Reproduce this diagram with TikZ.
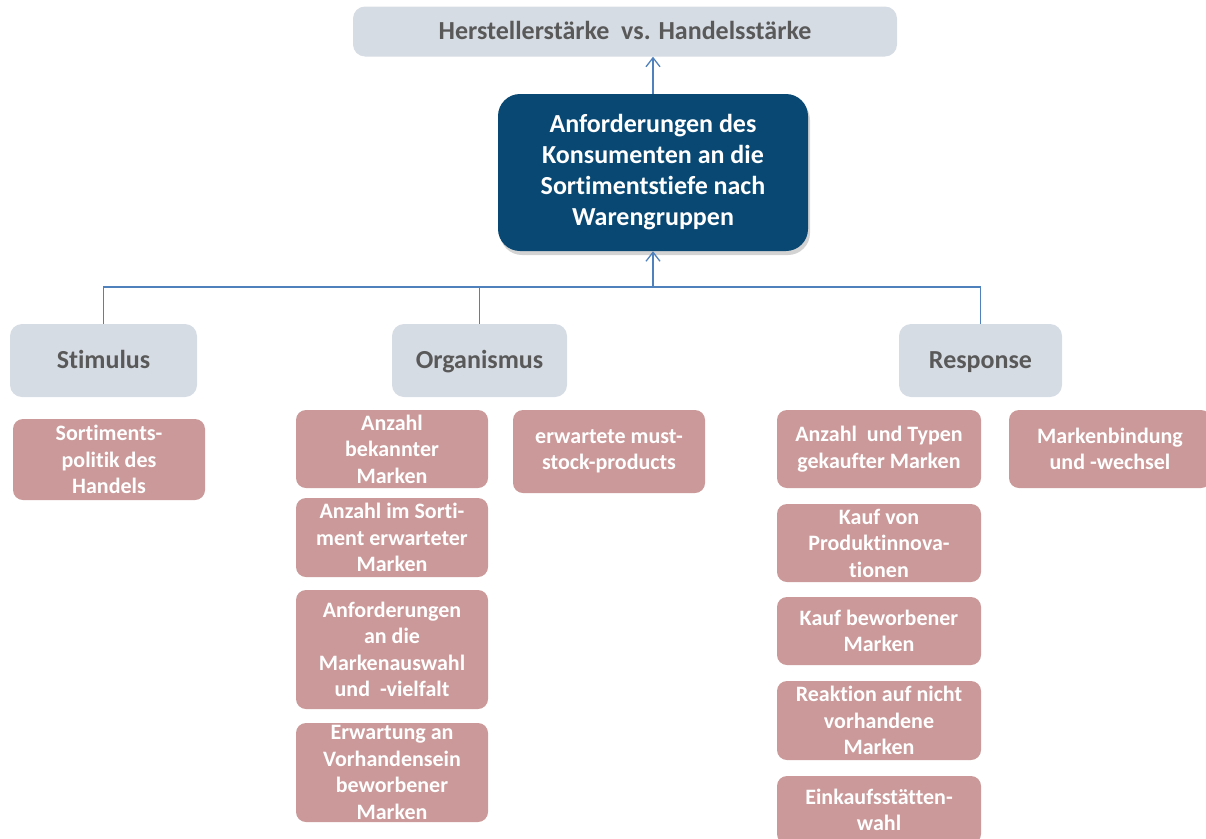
\documentclass[tikz,border=0pt]{standalone}
\usepackage{fontspec}
\setmainfont{Carlito}[Ligatures=NoCommon]
\usepackage{xcolor}
\usetikzlibrary{arrows.meta,shadows}
\definecolor{HeadFill}{RGB}{214,220,228}
\definecolor{HeadText}{RGB}{89,89,89}
\definecolor{MainFill}{RGB}{8,72,115}
\definecolor{ItemFill}{RGB}{203,153,153}
\definecolor{LinkCol}{RGB}{79,129,189}
\tikzset{
  srhead/.style={fill=HeadFill, rounded corners=12pt, inner sep=0pt, text=HeadText,
    font=\fontsize{26}{30}\selectfont\bfseries, text height=20pt, text depth=3.5pt},
  srmain/.style={fill=MainFill, rounded corners=22pt, inner sep=0pt, text=white,
    font=\fontsize{26}{31}\selectfont\bfseries, align=center,
    drop shadow={opacity=0.35, shadow xshift=2pt, shadow yshift=-4pt}},
  sritem/.style={fill=ItemFill, rounded corners=10pt, inner sep=0pt, text=white,
    font=\fontsize{22}{26.5}\selectfont\bfseries, align=center},
  srlink/.style={line width=1.3pt, draw=LinkCol},
  srarrow/.style={srlink, -{Straight Barb[length=9pt,width=14pt,line width=1.3pt]}}
}
\begin{document}
\begin{tikzpicture}[x=1pt,y=-1pt]
  \useasboundingbox (0,0) rectangle (1206,838);
  \clip (0,0) rectangle (1206,838);
  % top and centre
  \node[srhead, minimum width=544pt, minimum height=50pt] (top) at (625,31.5) {Herstellerstärke~ vs. Handelsstärke};
  \node[srmain, minimum width=310pt, minimum height=157pt] (main) at (653,172.5)
    {Anforderungen des\\Konsumenten an die\\Sortimentstiefe nach\\Warengruppen};
  % S-O-R headers
  \node[srhead, minimum width=187pt, minimum height=73pt] (stim) at (103.5,360.5) {Stimulus};
  \node[srhead, minimum width=175pt, minimum height=73pt] (org) at (479.5,360.5) {Organismus};
  \node[srhead, minimum width=163pt, minimum height=73pt] (resp) at (980.5,360.5) {Response};
  % stimulus
  \node[sritem, minimum width=192pt, minimum height=81pt] (sort) at (109,459.5) {Sortiments-\\politik des\\Handels};
  % organismus
  \node[sritem, minimum width=192pt, minimum height=78pt] (org1) at (392,449) {Anzahl\\bekannter\\Marken};
  \node[sritem, minimum width=192pt, minimum height=79pt] (org2) at (392,537.5) {Anzahl im Sorti-\\ment erwarteter\\Marken};
  \node[sritem, minimum width=192pt, minimum height=119pt] (org3) at (392,649.5) {Anforderungen\\an die\\Markenauswahl\\und~ -vielfalt};
  \node[sritem, minimum width=192pt, minimum height=99pt] (org4) at (392,772.5) {Erwartung an\\Vorhandensein\\beworbener\\Marken};
  \node[sritem, minimum width=192pt, minimum height=83pt] (must) at (609,451.5) {erwartete must-\\stock-products};
  % response
  \node[sritem, minimum width=204pt, minimum height=78pt] (resp1) at (879,449) {Anzahl~ und Typen\\gekaufter Marken};
  \node[sritem, minimum width=204pt, minimum height=78pt] (resp2) at (879,543) {Kauf von\\Produktinnova-\\tionen};
  \node[sritem, minimum width=204pt, minimum height=68pt] (resp3) at (879,631) {Kauf beworbener\\Marken};
  \node[sritem, minimum width=204pt, minimum height=79pt] (resp4) at (879,720.5) {Reaktion auf nicht\\vorhandene\\Marken};
  \node[sritem, minimum width=204pt, minimum height=68pt] (resp5) at (879,810) {Einkaufsstätten-\\wahl};
  \node[sritem, minimum width=202pt, minimum height=78pt] (brand) at (1110,449) {Markenbindung\\und -wechsel};
  % connectors
  \coordinate (bus) at (main.south |- 0,287);
  \draw[srlink] (stim.north) |- (bus) -| (resp.north);
  \draw[srlink] (org.north) -- (org.north |- bus);
  \draw[srarrow] (bus) -- (main.south);
  \draw[srarrow] (main.north) -- (main.north |- top.south);
\end{tikzpicture}
\end{document}
